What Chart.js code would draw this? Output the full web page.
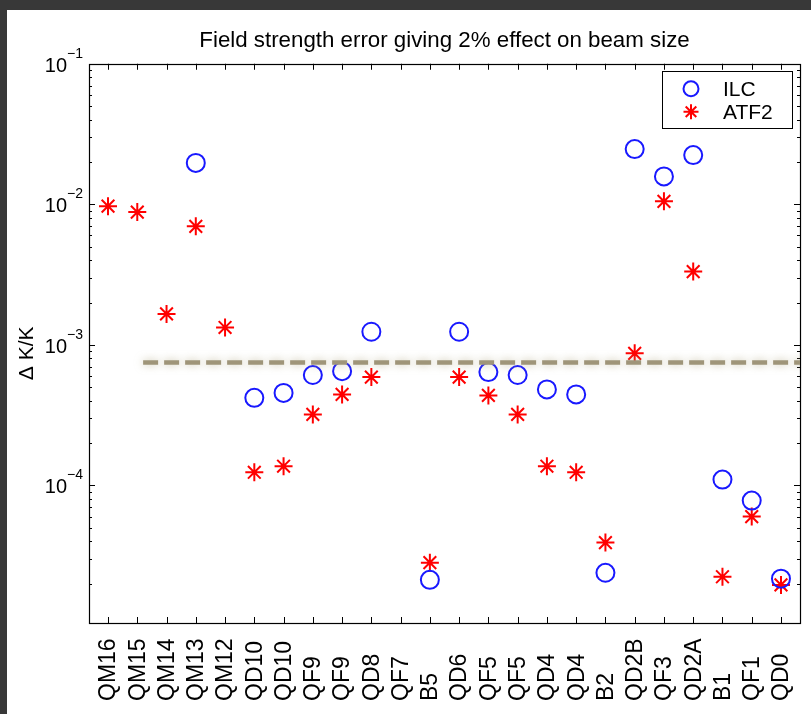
<!DOCTYPE html>
<html>
<head>
<meta charset="utf-8">
<script src="https://cdn.jsdelivr.net/npm/chart.js@4"></script>
<style>
  html, body { margin: 0; padding: 0; background: #383838; width: 811px; height: 714px; overflow: hidden; }
  #wrap { position: absolute; left: 7px; top: 10px; width: 804px; height: 704px; background: #ffffff; }
  canvas { display: block; }
</style>
</head>
<body>
<div id="wrap"><canvas id="c" width="804" height="704"></canvas></div>
<script>
// Magnet names along the beamline
const categories = ['QM16','QM15','QM14','QM13','QM12','QD10','QD10','QF9','QF9','QD8','QF7','B5',
                    'QD6','QF5','QF5','QD4','QD4','B2','QD2B','QF3','QD2A','B1','QF1','QD0'];
// Tolerated relative field error (dK/K) per magnet
const ilcValues  = [null, null, null, 1.97e-2, null, 4.2e-4, 4.55e-4, 6.1e-4, 6.5e-4, 1.24e-3, null, 2.13e-5,
                    1.24e-3, 6.4e-4, 6.1e-4, 4.82e-4, 4.44e-4, 2.39e-5, 2.47e-2, 1.58e-2, 2.24e-2, 1.1e-4, 7.8e-5, 2.17e-5];
const atf2Values = [9.7e-3, 8.8e-3, 1.66e-3, 6.97e-3, 1.33e-3, 1.24e-4, 1.37e-4, 3.2e-4, 4.44e-4, 5.9e-4, null, 2.82e-5,
                    5.9e-4, 4.37e-4, 3.2e-4, 1.37e-4, 1.24e-4, 3.92e-5, 8.7e-4, 1.05e-2, 3.32e-3, 2.24e-5, 6.0e-5, 1.96e-5];
// Achievable field stability level and the stretch of the line it spans
const stabilityLevel = 7.5e-4;
const stabilitySpan = [2.2, 25];
// Axis limits and labelled decades
const yRange = [1.05e-5, 1e-1];
const xRange = [0.35, 24.65];
const decadeExponents = [-4, -3, -2, -1];

const FONT = '"Liberation Sans", Arial, Helvetica, sans-serif';

function toPoints(values) {
  const pts = [];
  values.forEach((v, i) => { if (v !== null) pts.push({ x: i + 1, y: v }); });
  return pts;
}

// Axes frame, inward ticks, tick labels and the boxed legend
const frameAndLegend = {
  id: 'frameAndLegend',
  beforeDatasetsDraw(chart) {
    const ctx = chart.ctx;
    const a = chart.chartArea;
    const xs = chart.scales.x, ys = chart.scales.y;
    ctx.save();
    ctx.strokeStyle = '#000';
    ctx.lineWidth = 1;
    ctx.beginPath();
    // x ticks, top and bottom
    categories.forEach((_, i) => {
      const px = Math.round(xs.getPixelForValue(i + 1)) + 0.5;
      ctx.moveTo(px, a.bottom); ctx.lineTo(px, a.bottom - 6);
      ctx.moveTo(px, a.top); ctx.lineTo(px, a.top + 6);
    });
    // y ticks, left and right: decades long, 2..9 short
    for (let e = -6; e <= -1; e++) {
      for (let m = 1; m <= 9; m++) {
        const v = m * Math.pow(10, e);
        if (v < yRange[0] * 0.999 || v > yRange[1] * 1.001) continue;
        const py = Math.round(ys.getPixelForValue(v)) + 0.5;
        const len = m === 1 ? 6 : 3;
        ctx.moveTo(a.left, py); ctx.lineTo(a.left + len, py);
        ctx.moveTo(a.right, py); ctx.lineTo(a.right - len, py);
      }
    }
    ctx.stroke();
    ctx.lineWidth = 1.2;
    ctx.strokeRect(Math.round(a.left) + 0.5, Math.round(a.top) + 0.5,
                   Math.round(a.right - a.left), Math.round(a.bottom - a.top));

    // y tick labels as 10 with a raised exponent
    ctx.fillStyle = '#000';
    decadeExponents.forEach(e => {
      const py = ys.getPixelForValue(Math.pow(10, e));
      const sup = '\u2212' + Math.abs(e);
      ctx.font = '14px ' + FONT;
      const supW = ctx.measureText(sup).width;
      const supX = a.left - 6 - supW;
      ctx.textBaseline = 'alphabetic';
      ctx.textAlign = 'left';
      ctx.fillText(sup, supX, py - 6);
      ctx.font = '20px ' + FONT;
      ctx.textAlign = 'right';
      ctx.fillText('10', supX, py + 8);
    });

    // category labels, rotated, starting from a common bottom line
    ctx.font = '23px ' + FONT;
    ctx.textAlign = 'left';
    ctx.textBaseline = 'middle';
    categories.forEach((name, i) => {
      const px = xs.getPixelForValue(i + 1);
      ctx.save();
      ctx.translate(px + 1, a.bottom + 78);
      ctx.rotate(-Math.PI / 2);
      ctx.fillText(name, 0, 0);
      ctx.restore();
    });

    // y axis title
    ctx.font = '21px ' + FONT;
    ctx.textAlign = 'center';
    ctx.textBaseline = 'middle';
    ctx.save();
    ctx.translate(a.left - 62, (a.top + a.bottom) / 2 + 10);
    ctx.rotate(-Math.PI / 2);
    ctx.fillText('\u0394 K/K', 0, 0);
    ctx.restore();
    ctx.restore();
  },
  beforeDatasetDraw(chart, args) {
    if (args.index === 0) {
      const ctx = chart.ctx;
      ctx.save();
      ctx.shadowColor = 'rgba(170,160,120,0.6)';
      ctx.shadowBlur = 8;
    }
  },
  afterDatasetDraw(chart, args) {
    if (args.index === 0) chart.ctx.restore();
  },
  afterDatasetsDraw(chart) {
    const ctx = chart.ctx;
    const a = chart.chartArea;
    const w = 130, h = 57;
    const bx = a.right - 8 - w, by = a.top + 7;
    ctx.save();
    ctx.fillStyle = '#fff';
    ctx.fillRect(bx, by, w, h);
    ctx.strokeStyle = '#000';
    ctx.lineWidth = 1;
    ctx.strokeRect(Math.round(bx) + 0.5, Math.round(by) + 0.5, w, h);
    const entries = [chart.data.datasets[1], chart.data.datasets[2]];
    entries.forEach((ds, k) => {
      const cy = by + 18 + k * 23;
      ctx.strokeStyle = ds.borderColor;
      ctx.fillStyle = 'rgba(0,0,0,0)';
      ctx.lineWidth = 2;
      Chart.helpers.drawPoint(ctx, { pointStyle: ds.pointStyle, radius: 7.5, rotation: 0, borderWidth: 2 }, bx + 29, cy);
      ctx.fillStyle = '#000';
      ctx.font = '21px ' + FONT;
      ctx.textAlign = 'left';
      ctx.textBaseline = 'middle';
      ctx.fillText(ds.label, bx + 61, cy + 1);
    });
    ctx.restore();
  }
};

new Chart(document.getElementById('c'), {
  type: 'scatter',
  data: {
    datasets: [
      {
        label: 'stability',
        type: 'line',
        data: stabilitySpan.map(x => ({ x, y: stabilityLevel })),
        borderColor: '#9f9579',
        borderWidth: 4.5,
        borderDash: [15, 6],
        pointRadius: 0,
        fill: false
      },
      {
        label: 'ILC',
        data: toPoints(ilcValues),
        pointStyle: 'circle',
        pointRadius: 9,
        pointBorderWidth: 2,
        borderColor: 'rgb(25,25,255)',
        backgroundColor: 'rgba(0,0,0,0)',
        pointBackgroundColor: 'rgba(0,0,0,0)'
      },
      {
        label: 'ATF2',
        data: toPoints(atf2Values),
        pointStyle: 'star',
        pointRadius: 9,
        pointBorderWidth: 2,
        borderColor: 'rgb(255,0,0)',
        backgroundColor: 'rgba(0,0,0,0)'
      }
    ]
  },
  options: {
    responsive: false,
    animation: false,
    devicePixelRatio: 1,
    layout: { padding: { left: 0, right: 11, top: 0, bottom: 0 } },
    plugins: {
      legend: { display: false },
      tooltip: { enabled: false },
      title: {
        display: true,
        fullSize: false,
        text: 'Field strength error giving 2% effect on beam size',
        color: '#000',
        font: { family: FONT, size: 22.3, weight: 'normal' },
        padding: { top: 17, bottom: 10 }
      }
    },
    scales: {
      x: {
        type: 'linear',
        min: xRange[0],
        max: xRange[1],
        grid: { display: false },
        border: { display: false },
        ticks: { display: false },
        afterFit(scale) { scale.height = 91; }
      },
      y: {
        type: 'logarithmic',
        min: yRange[0],
        max: yRange[1],
        grid: { display: false },
        border: { display: false },
        ticks: { display: false },
        afterFit(scale) { scale.width = 82; }
      }
    }
  },
  plugins: [frameAndLegend]
});
</script>
</body>
</html>
